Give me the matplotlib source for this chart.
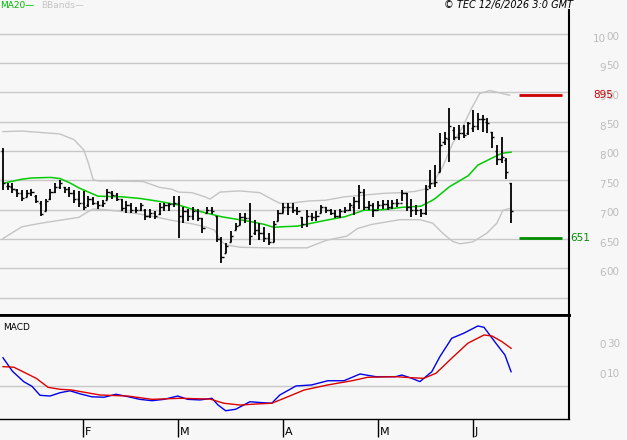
import numpy as np
import matplotlib
matplotlib.use('Agg')
import matplotlib.pyplot as plt
from matplotlib.transforms import blended_transform_factory

# Daily OHLC, in cents (axis labels show them as euros)
highs = [805, 746, 745, 736, 733, 733, 735, 725, 714, 719, 736, 745, 750, 739, 739, 733, 731,
         731, 723, 722, 715, 716, 736, 731, 728, 719, 714, 711, 705, 712, 701, 701, 697, 711, 712, 712, 723,
         723, 705, 702, 704, 702, 686, 705, 704, 690, 654, 643, 663, 677, 695, 695, 711, 682, 677, 671, 660, 680, 700,
         711, 711, 711, 705, 688, 700, 694, 697, 708, 705, 702, 700, 702, 705, 711, 722, 742, 735, 714, 711,
         714, 717, 717, 717, 719, 734, 728, 719, 708, 702, 742, 768, 776, 830, 833, 873, 841, 844, 844, 850,
         870, 864, 861, 856, 833, 810, 824, 788, 745]
lows = [733, 733, 729, 722, 715, 721, 723, 711, 689, 697, 716, 728, 735, 728, 722, 711, 705,
        700, 705, 708, 702, 705, 716, 719, 714, 698, 695, 694, 694, 697, 682, 685, 684, 691, 697, 698, 704,
        651, 678, 681, 682, 680, 660, 694, 692, 645, 610, 626, 645, 665, 674, 677, 640, 657, 648, 645, 640, 645, 680,
        694, 691, 694, 691, 668, 671, 680, 680, 694, 694, 691, 685, 685, 694, 697, 691, 702, 700, 700, 688,
        702, 702, 700, 702, 705, 714, 697, 688, 691, 688, 691, 736, 739, 765, 810, 782, 819, 819, 822, 827,
        833, 836, 833, 830, 805, 776, 779, 753, 677]
opens = [800, 740, 738, 733, 728, 722, 728, 724, 712, 697, 718, 730, 738, 738, 735, 728, 718,
         712, 708, 718, 712, 708, 716, 728, 725, 718, 703, 708, 700, 700, 700, 690, 695, 692, 705, 708, 710,
         712, 690, 698, 690, 698, 685, 695, 700, 690, 650, 626, 645, 665, 674, 688, 685, 660, 665, 660, 652, 645, 680,
         695, 705, 705, 700, 688, 675, 690, 688, 694, 705, 700, 695, 690, 698, 700, 705, 715, 730, 705, 708,
         700, 708, 710, 705, 712, 712, 728, 705, 700, 700, 695, 740, 745, 765, 815, 820, 835, 824, 830, 830,
         840, 842, 855, 850, 833, 800, 787, 785, 745]
closes = [745, 740, 735, 728, 720, 728, 730, 715, 693, 715, 730, 738, 745, 735, 728, 718, 712,
          705, 718, 712, 708, 712, 730, 725, 718, 703, 708, 700, 700, 708, 690, 695, 690, 705, 708, 710, 712,
          690, 698, 690, 698, 685, 668, 700, 698, 650, 620, 638, 655, 672, 688, 685, 655, 665, 660, 652, 645, 675, 695,
          705, 705, 700, 698, 675, 690, 688, 690, 705, 700, 695, 690, 698, 700, 708, 715, 730, 705, 708, 700,
          708, 710, 705, 712, 712, 728, 705, 700, 700, 695, 735, 745, 748, 810, 822, 842, 824, 830, 827, 847,
          842, 855, 855, 847, 824, 787, 790, 765, 697]

# MA20 and Bollinger bands, read at sample bars
ma20_x = [0, 4, 6, 10, 12, 14, 16, 18, 20, 25, 29, 33, 37, 41, 44, 46, 49, 52, 55, 57, 59, 62, 65,
          68, 72, 76, 80, 84, 88, 90, 91, 94, 98, 100, 103, 105, 107]
ma20 = [745, 752, 754, 755, 753, 746, 737, 730, 723, 722, 719, 714, 708, 698, 692, 688, 684, 680, 675,
        670, 671, 672, 677, 682, 688, 699, 700, 704, 706, 714, 719, 739, 758, 776, 788, 796, 798]
bb_up_x = [0, 4, 12, 15, 17, 18, 19, 20, 22.5, 29.5, 33, 35.5, 37, 39.8, 42.5, 43.6, 45.7, 49.9, 54.1,
           56.8, 58.3, 60.4, 64.6, 67.8, 72, 76.2, 80.4, 84, 86.7, 88.8, 90.5, 92.6, 94.7, 96.8, 98.7,
           100.4, 102.5, 104.6, 106.7]
bb_up = [833, 834, 829, 819, 802, 779, 751, 749, 749, 748, 738, 735, 730, 729, 722, 718, 730, 732, 729,
         717, 711, 711, 715, 716, 722, 725, 728, 729, 731, 735, 745, 773, 813, 841, 873, 898, 903, 899, 895]
bb_lo_x = [0, 4, 8, 12, 16, 18, 19, 21.5, 25, 30, 35.5, 39.8, 42.5, 44.6, 45.7, 47, 50, 55.6, 59.8,
           64, 68.2, 72.4, 74.7, 77.7, 83.6, 87.8, 90.5, 92.6, 94.7, 96.2, 98.9, 101.9, 104, 105.3, 106.7]
bb_lo = [651, 671, 677, 682, 687, 697, 701, 700, 697, 691, 682, 676, 671, 665, 648, 640, 636, 635, 635,
         635, 648, 655, 668, 675, 683, 683, 677, 660, 646, 642, 645, 660, 677, 699, 702]

# MACD (blue) and signal (red)
macd_x = [0, 2, 4.4, 6.1, 7.8, 9.9, 12, 14.1, 16.2, 18.7, 21.3, 23.8, 26.3, 28.8, 31.4, 33.9, 36.8,
          38.9, 41.5, 44, 45.3, 46.9, 49, 52, 54.5, 56.6, 58.3, 61.7, 65, 68.4, 71.8, 75.2, 78.5, 82.7,
          84, 86.1, 87.8, 90.3, 92, 94.5, 97, 100, 101.3, 103.8, 105.7, 107]
macd = [0.19, 0.10, 0.03, 0.0, -0.06, -0.065, -0.043, -0.03, -0.05, -0.07, -0.073, -0.053, -0.069,
        -0.087, -0.096, -0.087, -0.065, -0.087, -0.091, -0.08, -0.125, -0.163, -0.153, -0.103, -0.109,
        -0.113, -0.058, 0.002, 0.009, 0.037, 0.037, 0.082, 0.064, 0.064, 0.075, 0.053, 0.031, 0.097,
        0.197, 0.32, 0.353, 0.402, 0.393, 0.287, 0.209, 0.097]
signal_x = [0, 2.3, 7, 9.5, 12, 14.5, 20.4, 26.3, 31.4, 37.3, 43.6, 46.5, 50, 53.3, 56.6, 59.2,
            63.4, 68.4, 73.5, 76.8, 82.7, 86.1, 88.6, 91.2, 94.5, 97.9, 101.3, 103, 105.1, 107]
signal = [0.131, 0.127, 0.053, -0.007, -0.02, -0.025, -0.058, -0.065, -0.087, -0.08, -0.085, -0.113,
          -0.125, -0.118, -0.113, -0.08, -0.025, 0.009, 0.037, 0.06, 0.064, 0.057, 0.053, 0.087, 0.187,
          0.287, 0.342, 0.335, 0.297, 0.253]

month_starts = [17, 37, 59, 79, 99]
month_labels = ['F', 'M', 'A', 'M', 'J']
price_levels = [600, 650, 700, 750, 800, 850, 900, 950, 1000]
macd_levels = [0.10, 0.30]
resistance = 895
support = 651

BG = '#f7f7f7'
GRID = '#c8c8c8'
LABEL = '#bcbcbc'
PX = 0.72  # points per pixel at dpi 100


def split_label(v):
    whole, dec = f'{v:.2f}'.split('.')
    return whole, dec


def main():
    fig = plt.figure(figsize=(6.27, 4.40), dpi=100, facecolor=BG)
    W, H = 627.0, 440.0
    ax1 = fig.add_axes([0, 125 / H, 569 / W, 305 / H], facecolor=BG)
    ax2 = fig.add_axes([0, 21 / H, 569 / W, 104 / H], facecolor=BG)
    xlim = (-0.63, 119.2)

    # price panel
    x = np.arange(len(closes))
    for lv in range(550, 1001, 50):
        ax1.axhline(lv, color=GRID, lw=1, zorder=0)
    ax1.plot(bb_up_x, bb_up, color='#c4c4c4', lw=1, zorder=1)
    ax1.plot(bb_lo_x, bb_lo, color='#c4c4c4', lw=1, zorder=1)
    ax1.plot(ma20_x, ma20, color='#00cc00', lw=1.1, zorder=2)
    ax1.vlines(x, lows, highs, color='black', lw=1.3, zorder=3)
    ax1.hlines(opens, x - 0.45, x, color='black', lw=1, zorder=3)
    ax1.hlines(closes, x, x + 0.45, color='black', lw=1, zorder=3)
    ax1.hlines(resistance, len(x) + 0.7, xlim[1] - 1.5, color='#cc0000', lw=2, zorder=3)
    ax1.hlines(support, len(x) + 0.7, xlim[1] - 1.5, color='#008c00', lw=2, zorder=3)
    ax1.set_xlim(*xlim)
    ax1.set_ylim(520.6, 1040.2)
    ax1.set_xticks([])
    ax1.set_yticks([])
    for s in ('left', 'top'):
        ax1.spines[s].set_visible(False)
    ax1.spines['right'].set_linewidth(1.5)
    ax1.spines['bottom'].set_linewidth(2)

    trans1 = blended_transform_factory(fig.transFigure, ax1.transData)
    for lv in price_levels:
        whole, dec = split_label(lv / 100)
        ax1.annotate(whole, xy=(606 / W, lv), xycoords=trans1, xytext=(0, -5 * PX),
                     textcoords='offset points', ha='right', va='center', fontsize=7.5,
                     color=LABEL, annotation_clip=False)
        ax1.annotate(dec, xy=(606 / W, lv), xycoords=trans1, xytext=(0, -3.5 * PX),
                     textcoords='offset points', ha='left', va='center', fontsize=7.5,
                     color=LABEL, annotation_clip=False)
    ax1.annotate(str(resistance), xy=(593 / W, resistance), xycoords=trans1, ha='left',
                 va='center', fontsize=7.5, color='#cc0000', annotation_clip=False)
    ax1.annotate(str(support), xy=(570 / W, support), xycoords=trans1, ha='left',
                 va='center', fontsize=7.5, color='#008c00', annotation_clip=False)

    # MACD panel
    ax2.axhline(0, color=GRID, lw=1, zorder=0)
    ax2.plot(macd_x, macd, color='#0000ee', lw=1)
    ax2.plot(signal_x, signal, color='#dd0000', lw=1)
    ax2.set_xlim(*xlim)
    ax2.set_ylim(-0.218, 0.475)
    ax2.set_yticks([])
    ax2.set_xticks([m - 0.1 for m in month_starts])
    ax2.tick_params(axis='x', length=13, width=1, direction='out', labelbottom=False, color='black')
    ax2.spines['left'].set_visible(False)
    ax2.spines['top'].set_linewidth(2)
    ax2.spines['right'].set_linewidth(1.5)
    ax2.spines['bottom'].set_linewidth(1)
    for m, lab in zip(month_starts, month_labels):
        ax2.annotate(lab, xy=(m - 0.1, 0), xycoords=('data', 'axes fraction'),
                     xytext=(2 * PX, -18 * PX), textcoords='offset points', ha='left', va='bottom',
                     fontsize=8, annotation_clip=False)

    trans2 = blended_transform_factory(fig.transFigure, ax2.transData)
    for lv in macd_levels:
        whole, dec = split_label(lv)
        ax2.annotate(whole, xy=(606 / W, lv), xycoords=trans2, xytext=(0, -3.5 * PX),
                     textcoords='offset points', ha='right', va='center', fontsize=7.5,
                     color=LABEL, annotation_clip=False)
        ax2.annotate(dec, xy=(606 / W, lv), xycoords=trans2, xytext=(1 * PX, -3 * PX),
                     textcoords='offset points', ha='left', va='center', fontsize=7.5,
                     color=LABEL, annotation_clip=False)
    fig.text(3 / W, 1 - 327 / H, 'MACD', fontsize=6.5, va='center')

    # header texts
    fig.text(0, 1 - 5 / H, 'MA20—', color='#00bb00', fontsize=6.5, va='center')
    fig.text(41 / W, 1 - 5 / H, 'BBands—', color='#c4c4c4', fontsize=6.5, va='center')
    fig.text(573 / W, 1 - 5 / H, '© TEC 12/6/2026 3:0 GMT', ha='right', va='center',
             fontsize=7, style='italic')

    fig.savefig('out.png', dpi=100, facecolor=BG)


if __name__ == '__main__':
    main()
